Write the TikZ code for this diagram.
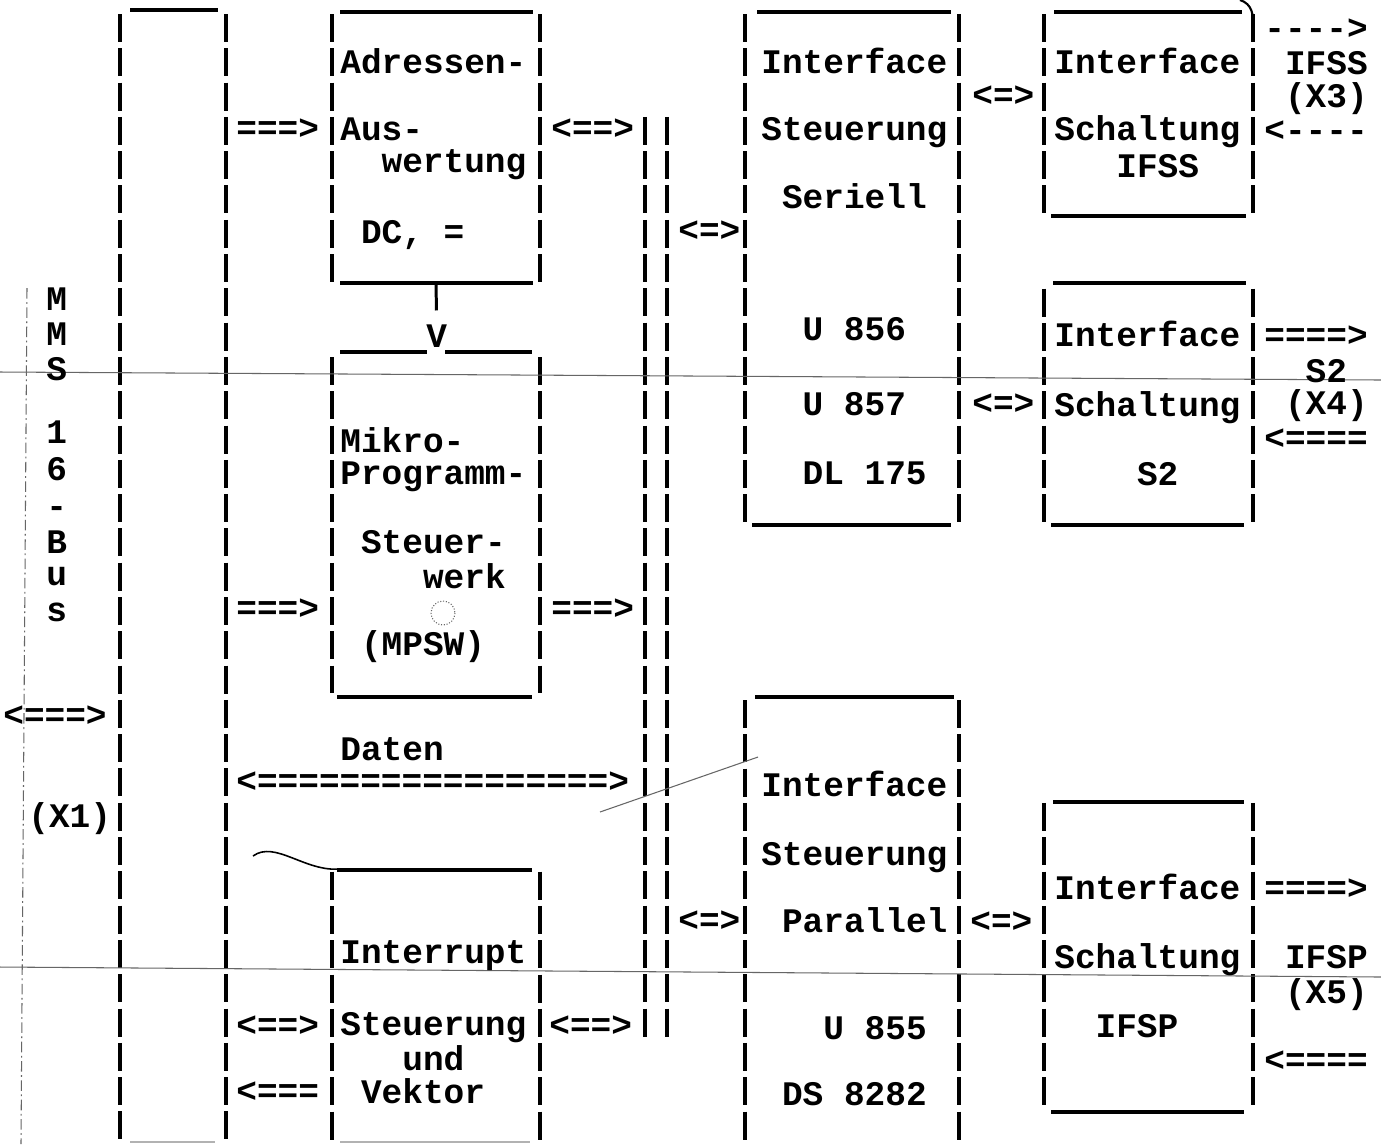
\documentclass[tikz,border=0pt]{standalone}
\usepackage{fontspec}
\newfontfamily\typefont{Liberation Mono}

\begin{document}
\begin{tikzpicture}[x=0.02cm, y=-0.02cm,
    typed/.style={font={\typefont\bfseries\fontsize{19.6pt}{20pt}\selectfont}, anchor=base west, inner sep=0pt},
    bar/.style={line width=1.9pt, dash pattern=on 0.56cm off 0.126cm},
    rule/.style={line width=2.1pt},
    faint/.style={line width=1.6pt, black!30},
    pencil/.style={line width=0.6pt, black!60}]
    \fill[white] (0,0) rectangle (1381,1144);
    \useasboundingbox (0,0) rectangle (1381,1144);

    % typed column bars
    \foreach \x/\ya/\yb in {120/14/1144, 226/14/1144,
            332/14/282, 540/14/282, 332/357/693, 540/357/693, 332/871.6/1144, 540/871.6/1144,
            645/116.9/1040, 667/116.9/1040,
            745/14/522, 959/14/522, 745/700/1144, 959/700/1144,
            1044/14/213, 1253/14/213, 1044/288.5/522, 1253/288.5/522, 1044/802.9/1110, 1253/802.9/1110}
        \draw[bar] (\x,\ya) -- (\x,\yb);

    % box tops and bottoms
    \draw[rule] (130,10) -- (218,10);
    \draw[rule] (340,12) -- (533,12);
    \draw[rule] (340,283) -- (533,283);
    \draw[rule] (340,352) -- (427,352);
    \draw[rule] (445,352) -- (532,352);
    \draw[rule] (337,697) -- (532,697);
    \draw[rule] (337,870) -- (532,870);
    \draw[rule] (757,12) -- (951,12);
    \draw[rule] (752,525) -- (951,525);
    \draw[rule] (755,697) -- (954,697);
    \draw[rule] (1054,12) -- (1242,12);
    \draw[rule] (1051,216) -- (1246,216);
    \draw[rule] (1053,283) -- (1246,283);
    \draw[rule] (1051,525) -- (1244,525);
    \draw[rule] (1053,802) -- (1244,802);
    \draw[rule] (1051,1112) -- (1244,1112);
    \draw[faint] (130,1142) -- (215,1142);
    \draw[faint] (340,1142) -- (530,1142);

    % pencil marks
    \draw[pencil] (0,372) -- (1381,380);
    \draw[pencil] (0,967) -- (1381,977);
    \draw[pencil, dash pattern=on 6pt off 2pt on 1pt off 2pt] (27,288) -- (21,1144);
    \draw[line width=0.9pt] (253,856) .. controls (275,840) and (305,872) .. (340,869);
    \draw[pencil] (600,812) -- (758,757);
    \draw[pencil, densely dotted] (443,613) circle (12);
    \draw[line width=1.2pt] (1240,0) .. controls (1252,4) and (1254,14) .. (1253,30);

    % MMS 16-Bus
    \foreach \c/\y [count=\i] in {M/310, M/345, S/380, 1/443, 6/480, -/517, B/553, u/585, s/621}
        \node[typed] (mms\i) at (46,\y) {\c};
    \node[typed] (busarr) at (3,726) {<===>};
    \node[typed] (xone) at (28,827) {(X1)};

    % Adressen-Auswertung
    \node[typed] (adr1) at (340,73) {Adressen-};
    \node[typed] (adr2) at (340,140) {Aus-};
    \node[typed] (adr3) at (381.3,172) {wertung};
    \node[typed] (adr4) at (360.7,243) {DC, =};
    \coordinate (adrfoot) at (436,283);
    \node[typed] (vtip) at (426,347) {V};
    \draw[line width=1.7pt, shorten >=0.27cm] (adrfoot) -- (vtip.north);

    % Mikroprogrammsteuerwerk
    \node[typed] (mps1) at (340,452) {Mikro-};
    \node[typed] (mps2) at (340,484) {Programm-};
    \node[typed] (mps3) at (360.7,553) {Steuer-};
    \node[typed] (mps4) at (422.7,588) {werk};
    \node[typed] (mps5) at (360.7,655) {(MPSW)};
    \node[typed] (daten) at (340,760) {Daten};

    % Interrupt
    \node[typed] (irq1) at (340,963) {Interrupt};
    \node[typed] (irq2) at (340,1035) {Steuerung};
    \node[typed] (irq3) at (402,1070) {und};
    \node[typed] (irq4) at (360.7,1103) {Vektor};

    % typed arrows, left half
    \node[typed] (arr1) at (236,139) {===>};
    \node[typed] (arr2) at (236,619) {===>};
    \node[typed] (arr3) at (236,792) {<=================>};
    \node[typed] (arr4) at (236,1036) {<==>};
    \node[typed] (arr5) at (236,1102) {<===};
    \node[typed] (arr6) at (551,139) {<==>};
    \node[typed] (arr7) at (551,619) {===>};
    \node[typed] (arr8) at (549,1036) {<==>};
    \node[typed] (arr9) at (678,241) {<=>};
    \node[typed] (arr10) at (678,931) {<=>};

    % Interface Steuerung Seriell
    \node[typed] (ser1) at (761,73) {Interface};
    \node[typed] (ser2) at (761,140) {Steuerung};
    \node[typed] (ser3) at (781.7,208) {Seriell};
    \node[typed] (ser4) at (802.3,340) {U 856};
    \node[typed] (ser5) at (802.3,415) {U 857};
    \node[typed] (ser6) at (802.3,484) {DL 175};

    % Interface Steuerung Parallel
    \node[typed] (par1) at (761,796) {Interface};
    \node[typed] (par2) at (761,865) {Steuerung};
    \node[typed] (par3) at (781.7,932) {Parallel};
    \node[typed] (par4) at (823,1039) {U 855};
    \node[typed] (par5) at (781.7,1105) {DS 8282};

    \node[typed] (arr11) at (972,106) {<=>};
    \node[typed] (arr12) at (972,414) {<=>};
    \node[typed] (arr13) at (970,932) {<=>};

    % Interface Schaltungen
    \node[typed] (ifss1) at (1054,73) {Interface};
    \node[typed] (ifss2) at (1054,140) {Schaltung};
    \node[typed] (ifss3) at (1116,177) {IFSS};
    \node[typed] (stwo1) at (1054,346) {Interface};
    \node[typed] (stwo2) at (1054,416) {Schaltung};
    \node[typed] (stwo3) at (1136.7,485) {S2};
    \node[typed] (ifsp1) at (1054,899) {Interface};
    \node[typed] (ifsp2) at (1054,968) {Schaltung};
    \node[typed] (ifsp3) at (1095.3,1037) {IFSP};

    % outer plugs
    \node[typed] (out1) at (1264,39) {---->};
    \node[typed] (out2) at (1284.7,74) {IFSS};
    \node[typed] (out3) at (1284.7,107) {(X3)};
    \node[typed] (out4) at (1264,141) {<----};
    \node[typed] (out5) at (1264,346) {====>};
    \node[typed] (out6) at (1305.3,382) {S2};
    \node[typed] (out7) at (1284.7,414) {(X4)};
    \node[typed] (out8) at (1264,449) {<====};
    \node[typed] (out9) at (1264,899) {====>};
    \node[typed] (out10) at (1284.7,968) {IFSP};
    \node[typed] (out11) at (1284.7,1003) {(X5)};
    \node[typed] (out12) at (1264,1071) {<====};
\end{tikzpicture}
\end{document}
